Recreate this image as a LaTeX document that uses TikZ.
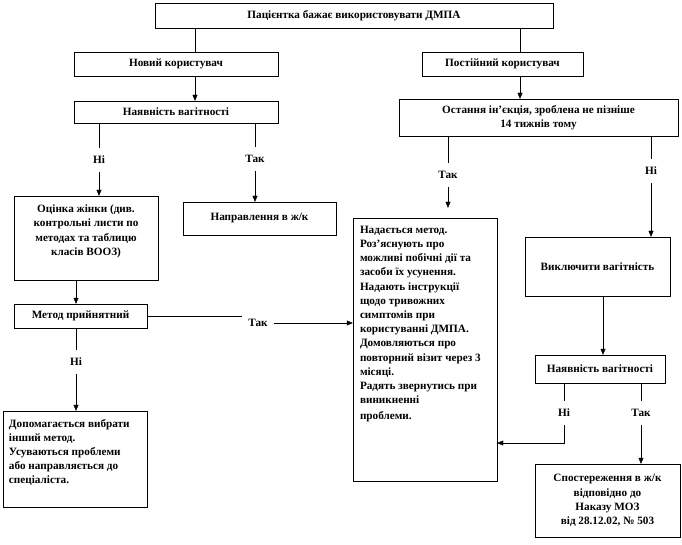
\documentclass[tikz,border=0pt]{standalone}
\usepackage{fontspec}
\setmainfont{Liberation Serif}
\usetikzlibrary{arrows.meta}

\tikzset{
  box/.style={draw, thin, inner sep=0pt, align=center},
  lbl/.style={inner xsep=6pt, inner ysep=8pt},
  arr/.style={-{Triangle[length=6pt,width=5pt]}}
}

\begin{document}
\begin{tikzpicture}[x=1pt,y=-1pt, font=\fontsize{11.2}{14.2}\selectfont\bfseries]
        \useasboundingbox (0,0) rectangle (682,545);

        % колонки для ліній
        \coordinate (cA) at (195,0);
        \coordinate (cB) at (520,0);
        \coordinate (cC) at (76,0);
        \coordinate (cD) at (603,0);

        % верхні блоки
        \node[box, minimum width=398pt, minimum height=25pt] (top) at (354,15.5) {Пацієнтка бажає використовувати ДМПА};
        \node[box, minimum width=204pt, minimum height=24pt] (novyi) at (176,64) {Новий користувач};
        \node[box, minimum width=161pt, minimum height=24pt] (postiinyi) at (502.5,64) {Постійний користувач};
        \node[box, minimum width=204pt, minimum height=22pt] (nayav1) at (176,112) {Наявність вагітності};
        \node[box, minimum width=279pt, minimum height=37pt] (ostannia) at (538.5,117.5) {Остання ін’єкція, зроблена не пізніше\\14 тижнів тому};

        % ліва гілка
        \node[box, minimum width=144pt] (ocinka) at (86,238) {\parbox[c][84pt][t]{136pt}{\centering\vspace*{9pt}Оцінка жінки (див.\\контрольні листи по\\методах та таблицю\\класів ВООЗ)}};
        \node[box, minimum width=153pt, minimum height=33pt] (napr) at (259.5,218.5) {Направлення в ж/к};
        \node[box, minimum width=133pt, minimum height=24pt] (metod) at (80.5,316) {Метод прийнятний};
        \node[box, minimum width=144pt] (dopom) at (75,459) {\parbox[c][96pt][t]{132pt}{\raggedright\vspace*{8pt}Допомагається вибрати\\інший метод.\\Усуваються проблеми\\або направляється до\\спеціаліста.}};

        % середній блок
        \node[box, minimum width=144pt] (nadaet) at (425,349.5) {\parbox[c][263pt][t]{130pt}{\raggedright\vspace*{8pt}Надається метод.\\Роз’яснують про\\можливі побічні дії та\\засоби їх усунення.\\Надають інструкції\\щодо тривожних\\симптомів при\\користуванні ДМПА.\\Домовляються про\\повторний візит через 3\\місяці.\\Радять звернутись при\\виникненні\\[2pt]проблеми.}};

        % права гілка
        \node[box, minimum width=145pt, minimum height=59pt] (vykl) at (597.5,266.5) {Виключити вагітність};
        \node[box, minimum width=130pt, minimum height=28pt] (nayav2) at (600,369) {Наявність вагітності};
        \node[box, minimum width=145pt, minimum height=73pt] (sposter) at (607.5,500.5) {Спостереження в ж/к\\відповідно до\\Наказу МОЗ\\від 28.12.02, № 503};

        % підписи
        \node[lbl] (ni1) at (99,160) {Ні};
        \node[lbl] (tak1) at (255,159) {Так};
        \node[lbl] (tak2) at (258,323) {Так};
        \node[lbl] (ni2) at (76,362) {Ні};
        \node[lbl] (tak3) at (448,175) {Так};
        \node[lbl] (ni3) at (651,171) {Ні};
        \node[lbl] (ni4) at (564,413) {Ні};
        \node[lbl] (tak4) at (641,413) {Так};
        \coordinate (nb) at (564,443);

        % з'єднання
        \draw (top.south -| cA) -- (novyi.north -| cA);
        \draw (top.south -| cB) -- (postiinyi.north -| cB);
        \draw[arr] (novyi.south -| cA) -- (nayav1.north -| cA);
        \draw[arr] (postiinyi.south -| cB) -- (ostannia.north -| cB);

        \draw (nayav1.south -| ni1) -- (ni1.north);
        \draw[arr] (ni1.south) -- (ocinka.north -| ni1);
        \draw (nayav1.south -| tak1) -- (tak1.north);
        \draw[arr] (tak1.south) -- (napr.north -| tak1);

        \draw[arr] (ocinka.south -| cC) -- (metod.north -| cC);
        \draw (metod.east) -- (metod.east -| tak2.west);
        \draw[arr] (tak2.east) -- (tak2.east -| nadaet.west);
        \draw (metod.south -| ni2) -- (ni2.north);
        \draw[arr] (ni2.south) -- (dopom.north -| ni2);

        \draw (ostannia.south -| tak3) -- (tak3.north);
        \draw[arr, shorten >=10pt] (tak3.south) -- (nadaet.north -| tak3);
        \draw (ostannia.south -| ni3) -- (ni3.north);
        \draw[arr] (ni3.south) -- (vykl.north -| ni3);

        \draw[arr] (vykl.south -| cD) -- (nayav2.north -| cD);
        \draw (nayav2.south -| ni4) -- (ni4.north);
        \draw[arr] (ni4.south) -- (nb) -- (nb -| nadaet.east);
        \draw (nayav2.south -| tak4) -- (tak4.north);
        \draw[arr] (tak4.south) -- (sposter.north -| tak4);
    \end{tikzpicture}
\end{document}
